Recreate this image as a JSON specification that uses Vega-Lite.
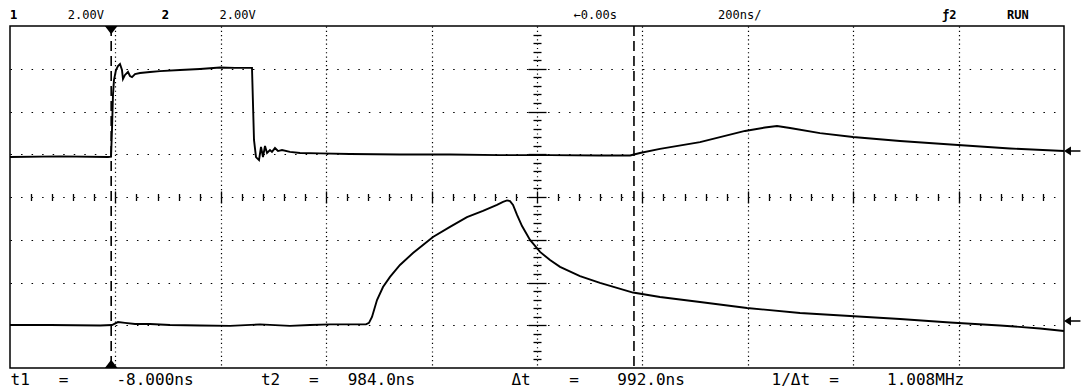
{
  "$schema": "https://vega.github.io/schema/vega-lite/v6.json",
  "width": 1054,
  "height": 342,
  "autosize": {"type": "none"},
  "padding": {"left": 10, "top": 26, "right": 18, "bottom": 19},
  "background": "white",
  "config": {"view": {"stroke": "black", "strokeWidth": 1.5}},
  "title": {
    "text": "1\u00a0\u00a0\u00a0\u00a0\u00a0\u00a0\u00a02.00V\u00a0\u00a0\u00a0\u00a0\u00a0\u00a0\u00a0\u00a02\u00a0\u00a0\u00a0\u00a0\u00a0\u00a0\u00a02.00V\u00a0\u00a0\u00a0\u00a0\u00a0\u00a0\u00a0\u00a0\u00a0\u00a0\u00a0\u00a0\u00a0\u00a0\u00a0\u00a0\u00a0\u00a0\u00a0\u00a0\u00a0\u00a0\u00a0\u00a0\u00a0\u00a0\u00a0\u00a0\u00a0\u00a0\u00a0\u00a0\u00a0\u00a0\u00a0\u00a0\u00a0\u00a0\u00a0\u00a0\u00a0\u00a0\u00a0\u00a0\u21900.00s\u00a0\u00a0\u00a0\u00a0\u00a0\u00a0\u00a0\u00a0\u00a0\u00a0\u00a0\u00a0\u00a0\u00a0200ns/",
    "subtitle": "1\u00a0\u00a0\u00a0\u00a0\u00a0\u00a0\u00a0\u00a0\u00a0\u00a0\u00a0\u00a0\u00a0\u00a0\u00a0\u00a0\u00a0\u00a0\u00a0\u00a02\u00a0\u00a0\u00a0\u00a0\u00a0\u00a0\u00a0\u00a0\u00a0\u00a0\u00a0\u00a0\u00a0\u00a0\u00a0\u00a0\u00a0\u00a0\u00a0\u00a0\u00a0\u00a0\u00a0\u00a0\u00a0\u00a0\u00a0\u00a0\u00a0\u00a0\u00a0\u00a0\u00a0\u00a0\u00a0\u00a0\u00a0\u00a0\u00a0\u00a0\u00a0\u00a0\u00a0\u00a0\u00a0\u00a0\u00a0\u00a0\u00a0\u00a0\u00a0\u00a0\u00a0\u00a0\u00a0\u00a0\u00a0\u00a0\u00a0\u00a0\u00a0\u00a0\u00a0\u00a0\u00a0\u00a0\u00a0\u00a0\u00a0\u00a0\u00a0\u00a0\u00a0\u00a0\u00a0\u00a0\u00a0\u00a0\u00a0\u00a0\u00a0\u00a0\u00a0\u00a0\u00a0\u00a0\u00a0\u00a0\u00a0\u00a0\u00a0\u00a0\u00a0\u00a0\u00a0\u00a0\u00a0\u00a0\u00a0\u00a0\u00a0\u00a0\u00a0\u00a0\u00a0\u00a0\u00a0\u01922\u00a0\u00a0\u00a0\u00a0\u00a0\u00a0\u00a0RUN",
    "anchor": "start",
    "frame": "group",
    "font": "DejaVu Sans Mono",
    "fontSize": 12,
    "fontWeight": "normal",
    "color": "black",
    "subtitleFont": "DejaVu Sans Mono",
    "subtitleFontSize": 12,
    "subtitleFontWeight": "bold",
    "subtitleColor": "black",
    "subtitlePadding": -12,
    "offset": 3
  },
  "datasets": {
    "ch1": [
      {"t": -200, "v": 1.87}, {"t": -105, "v": 1.9}, {"t": -14, "v": 1.87}, {"t": -8.3, "v": 1.89},
      {"t": -6.5, "v": 3.13}, {"t": -4.6, "v": 4.77}, {"t": -2.7, "v": 5.47}, {"t": 1.1, "v": 5.94},
      {"t": 4.9, "v": 6.13}, {"t": 8.7, "v": 6.22}, {"t": 12.5, "v": 5.94}, {"t": 14.4, "v": 5.52},
      {"t": 18.2, "v": 5.71}, {"t": 23.9, "v": 5.85}, {"t": 27.7, "v": 5.66}, {"t": 31.5, "v": 5.61},
      {"t": 37.2, "v": 5.75}, {"t": 46.7, "v": 5.8}, {"t": 65.7, "v": 5.85}, {"t": 84.6, "v": 5.89},
      {"t": 122.6, "v": 5.94}, {"t": 160.5, "v": 5.99}, {"t": 198.5, "v": 6.06}, {"t": 226.9, "v": 6.04},
      {"t": 255.4, "v": 6.04}, {"t": 259.2, "v": 6.04}, {"t": 263, "v": 2.67}, {"t": 266.8, "v": 1.87},
      {"t": 268.7, "v": 1.82}, {"t": 272.5, "v": 1.73}, {"t": 276.3, "v": 2.34}, {"t": 280.1, "v": 1.87},
      {"t": 283.9, "v": 2.39}, {"t": 287.7, "v": 2.06}, {"t": 293.3, "v": 2.2}, {"t": 297.1, "v": 2.11},
      {"t": 302.8, "v": 2.29}, {"t": 308.5, "v": 2.15}, {"t": 316.1, "v": 2.2}, {"t": 331.3, "v": 2.11},
      {"t": 350.3, "v": 2.06}, {"t": 388.2, "v": 2.04}, {"t": 445.2, "v": 2.01}, {"t": 540, "v": 1.99},
      {"t": 634.9, "v": 1.99}, {"t": 729.8, "v": 1.96}, {"t": 824.7, "v": 1.96}, {"t": 919.5, "v": 1.94},
      {"t": 976.5, "v": 1.94}, {"t": 995.4, "v": 2.06}, {"t": 1033.4, "v": 2.25}, {"t": 1109.3, "v": 2.57},
      {"t": 1194.7, "v": 3.09}, {"t": 1232.6, "v": 3.25}, {"t": 1255.4, "v": 3.32}, {"t": 1280.1, "v": 3.23},
      {"t": 1337, "v": 2.99}, {"t": 1399.6, "v": 2.81}, {"t": 1488.8, "v": 2.62}, {"t": 1598.9, "v": 2.43},
      {"t": 1697.5, "v": 2.27}, {"t": 1800, "v": 2.15}
    ],
    "ch2": [
      {"t": -200, "v": -5.99}, {"t": -124, "v": -5.99}, {"t": -29, "v": -6.01}, {"t": -6.5, "v": -5.99},
      {"t": 4.9, "v": -5.85}, {"t": 18.2, "v": -5.89}, {"t": 37.2, "v": -5.94}, {"t": 65.7, "v": -5.94},
      {"t": 103.6, "v": -5.99}, {"t": 160.5, "v": -6.01}, {"t": 217.5, "v": -6.03}, {"t": 274.4, "v": -5.96},
      {"t": 331.3, "v": -6.03}, {"t": 369.3, "v": -5.99}, {"t": 407.2, "v": -5.96}, {"t": 475.5, "v": -5.96},
      {"t": 481.2, "v": -5.89}, {"t": 486.9, "v": -5.61}, {"t": 496.4, "v": -4.82}, {"t": 507.8, "v": -4.21},
      {"t": 521.1, "v": -3.74}, {"t": 540, "v": -3.18}, {"t": 564.7, "v": -2.62}, {"t": 602.6, "v": -1.87},
      {"t": 634.9, "v": -1.4}, {"t": 667.1, "v": -0.94}, {"t": 697.5, "v": -0.65}, {"t": 724.1, "v": -0.37},
      {"t": 735.5, "v": -0.23}, {"t": 743.1, "v": -0.16}, {"t": 748.8, "v": -0.19}, {"t": 754.5, "v": -0.37},
      {"t": 762.1, "v": -0.84}, {"t": 771.6, "v": -1.36}, {"t": 786.8, "v": -2.01}, {"t": 805.8, "v": -2.57},
      {"t": 824.7, "v": -2.95}, {"t": 843.7, "v": -3.27}, {"t": 881.6, "v": -3.7}, {"t": 919.5, "v": -4.02},
      {"t": 982.2, "v": -4.47}, {"t": 1033.4, "v": -4.68}, {"t": 1109.3, "v": -4.91}, {"t": 1198.5, "v": -5.19},
      {"t": 1299.1, "v": -5.43}, {"t": 1394, "v": -5.57}, {"t": 1488.8, "v": -5.71}, {"t": 1583.7, "v": -5.87},
      {"t": 1678.6, "v": -6.01}, {"t": 1754.5, "v": -6.15}, {"t": 1800, "v": -6.27}
    ],
    "markers": [
      {"t": -8, "v": 8, "kind": "t1top"},
      {"t": -8, "v": -8, "kind": "t1bottom"},
      {"t": 1800, "v": 2.15, "kind": "gnd1"},
      {"t": 1800, "v": -5.8, "kind": "gnd2"}
    ],
    "cursors": [
      {"t": -8, "cursor": "t1"},
      {"t": 984, "cursor": "t2"}
    ]
  },
  "resolve": {"axis": {"x": "independent", "y": "independent"}},
  "layer": [
    {
      "data": {"name": "ch1"},
      "mark": {"type": "line", "color": "black", "strokeWidth": 1.9},
      "encoding": {
        "x": {
          "field": "t", "type": "quantitative",
          "scale": {"domain": [-200, 1800], "nice": false, "zero": false},
          "axis": {
            "orient": "bottom",
            "values": [0, 200, 400, 600, 800, 1000, 1200, 1400, 1600],
            "grid": true, "gridColor": "black", "gridWidth": 1.2, "gridDash": [1.2, 3.075],
            "labels": false, "ticks": false, "domain": false,
            "title": "t1\u00a0\u00a0\u00a0=\u00a0\u00a0\u00a0\u00a0\u00a0-8.000ns\u00a0\u00a0\u00a0\u00a0\u00a0\u00a0\u00a0t2\u00a0\u00a0\u00a0=\u00a0\u00a0\u00a0984.0ns\u00a0\u00a0\u00a0\u00a0\u00a0\u00a0\u00a0\u00a0\u00a0\u00a0\u0394t\u00a0\u00a0\u00a0\u00a0=\u00a0\u00a0\u00a0\u00a0992.0ns\u00a0\u00a0\u00a0\u00a0\u00a0\u00a0\u00a0\u00a0\u00a01/\u0394t\u00a0\u00a0=\u00a0\u00a0\u00a0\u00a0\u00a01.008MHz",
            "titleAnchor": "start", "titleAlign": "left",
            "titleFont": "DejaVu Sans Mono", "titleFontSize": 16, "titleFontWeight": "normal",
            "titleColor": "black", "titlePadding": 3
          }
        },
        "y": {
          "field": "v", "type": "quantitative",
          "scale": {"domain": [-8, 8], "nice": false, "zero": false},
          "axis": {
            "orient": "left",
            "values": [-6, -4, -2, 0, 2, 4, 6],
            "grid": true, "gridColor": "black", "gridWidth": 1.2, "gridDash": [1.5, 9.04],
            "labels": false, "ticks": false, "domain": false, "title": null
          }
        }
      }
    },
    {
      "data": {"name": "ch2"},
      "mark": {"type": "line", "color": "black", "strokeWidth": 1.9},
      "encoding": {
        "x": {
          "field": "t", "type": "quantitative",
          "scale": {"domain": [-200, 1800], "nice": false, "zero": false},
          "axis": {
            "orient": "bottom", "offset": -171,
            "values": [-160,-120,-80,-40,0,40,80,120,160,200,240,280,320,360,400,440,480,520,560,600,640,680,720,760,800,840,880,920,960,1000,1040,1080,1120,1160,1200,1240,1280,1320,1360,1400,1440,1480,1520,1560,1600,1640,1680,1720,1760],
            "grid": false, "labels": false, "domain": false, "title": null,
            "ticks": true, "tickColor": "black", "tickWidth": 1.3,
            "tickSize": {"condition": {"test": "abs(datum.value % 200) < 1", "value": 6}, "value": 3.5}
          }
        },
        "y": {
          "field": "v", "type": "quantitative",
          "scale": {"domain": [-8, 8], "nice": false, "zero": false},
          "axis": {
            "orient": "left", "offset": -527,
            "values": [-7.6,-7.2,-6.8,-6.4,-6,-5.6,-5.2,-4.8,-4.4,-4,-3.6,-3.2,-2.8,-2.4,-2,-1.6,-1.2,-0.8,-0.4,0,0.4,0.8,1.2,1.6,2,2.4,2.8,3.2,3.6,4,4.4,4.8,5.2,5.6,6,6.4,6.8,7.2,7.6],
            "grid": false, "labels": false, "domain": false, "title": null,
            "ticks": true, "tickColor": "black", "tickWidth": 1.3,
            "tickSize": {"condition": {"test": "abs(datum.value % 2) < 0.01", "value": 9}, "value": 4}
          }
        }
      }
    },
    {
      "data": {"name": "markers"},
      "mark": {"type": "point", "filled": true, "color": "black", "opacity": 1, "clip": false},
      "encoding": {
        "x": {
          "field": "t", "type": "quantitative",
          "scale": {"domain": [-200, 1800], "nice": false, "zero": false},
          "axis": {
            "orient": "top", "offset": -171,
            "values": [-160,-120,-80,-40,0,40,80,120,160,200,240,280,320,360,400,440,480,520,560,600,640,680,720,760,800,840,880,920,960,1000,1040,1080,1120,1160,1200,1240,1280,1320,1360,1400,1440,1480,1520,1560,1600,1640,1680,1720,1760],
            "grid": false, "labels": false, "domain": false, "title": null,
            "ticks": true, "tickColor": "black", "tickWidth": 1.3,
            "tickSize": {"condition": {"test": "abs(datum.value % 200) < 1", "value": 6}, "value": 3.5}
          }
        },
        "y": {
          "field": "v", "type": "quantitative",
          "scale": {"domain": [-8, 8], "nice": false, "zero": false},
          "axis": {
            "orient": "right", "offset": -527,
            "values": [-7.6,-7.2,-6.8,-6.4,-6,-5.6,-5.2,-4.8,-4.4,-4,-3.6,-3.2,-2.8,-2.4,-2,-1.6,-1.2,-0.8,-0.4,0,0.4,0.8,1.2,1.6,2,2.4,2.8,3.2,3.6,4,4.4,4.8,5.2,5.6,6,6.4,6.8,7.2,7.6],
            "grid": false, "labels": false, "domain": false, "title": null,
            "ticks": true, "tickColor": "black", "tickWidth": 1.3,
            "tickSize": {"condition": {"test": "abs(datum.value % 2) < 0.01", "value": 9}, "value": 4}
          }
        },
        "shape": {
          "field": "kind", "type": "nominal", "legend": null,
          "scale": {
            "domain": ["t1top", "t1bottom", "gnd1", "gnd2"],
            "range": ["M-1,0L1,0L0,1.3Z", "M-1,0L1,0L0,-1.3Z", "M0,0L1.1,-0.7L1.1,0.7ZM1.1,-0.12L2.6,-0.12L2.6,0.12L1.1,0.12Z", "M0,0L1.1,-0.7L1.1,0.7ZM1.1,-0.12L2.6,-0.12L2.6,0.12L1.1,0.12Z"]
          }
        },
        "size": {
          "field": "kind", "type": "nominal", "legend": null,
          "scale": {"domain": ["t1top", "t1bottom", "gnd1", "gnd2"], "range": [160, 160, 500, 500]}
        }
      }
    },
    {
      "data": {"name": "cursors"},
      "mark": {"type": "rule", "color": "black", "strokeWidth": 1.6, "strokeDash": [10, 5]},
      "encoding": {
        "x": {
          "field": "t", "type": "quantitative",
          "scale": {"domain": [-200, 1800], "nice": false, "zero": false},
          "axis": null
        }
      }
    }
  ]
}
